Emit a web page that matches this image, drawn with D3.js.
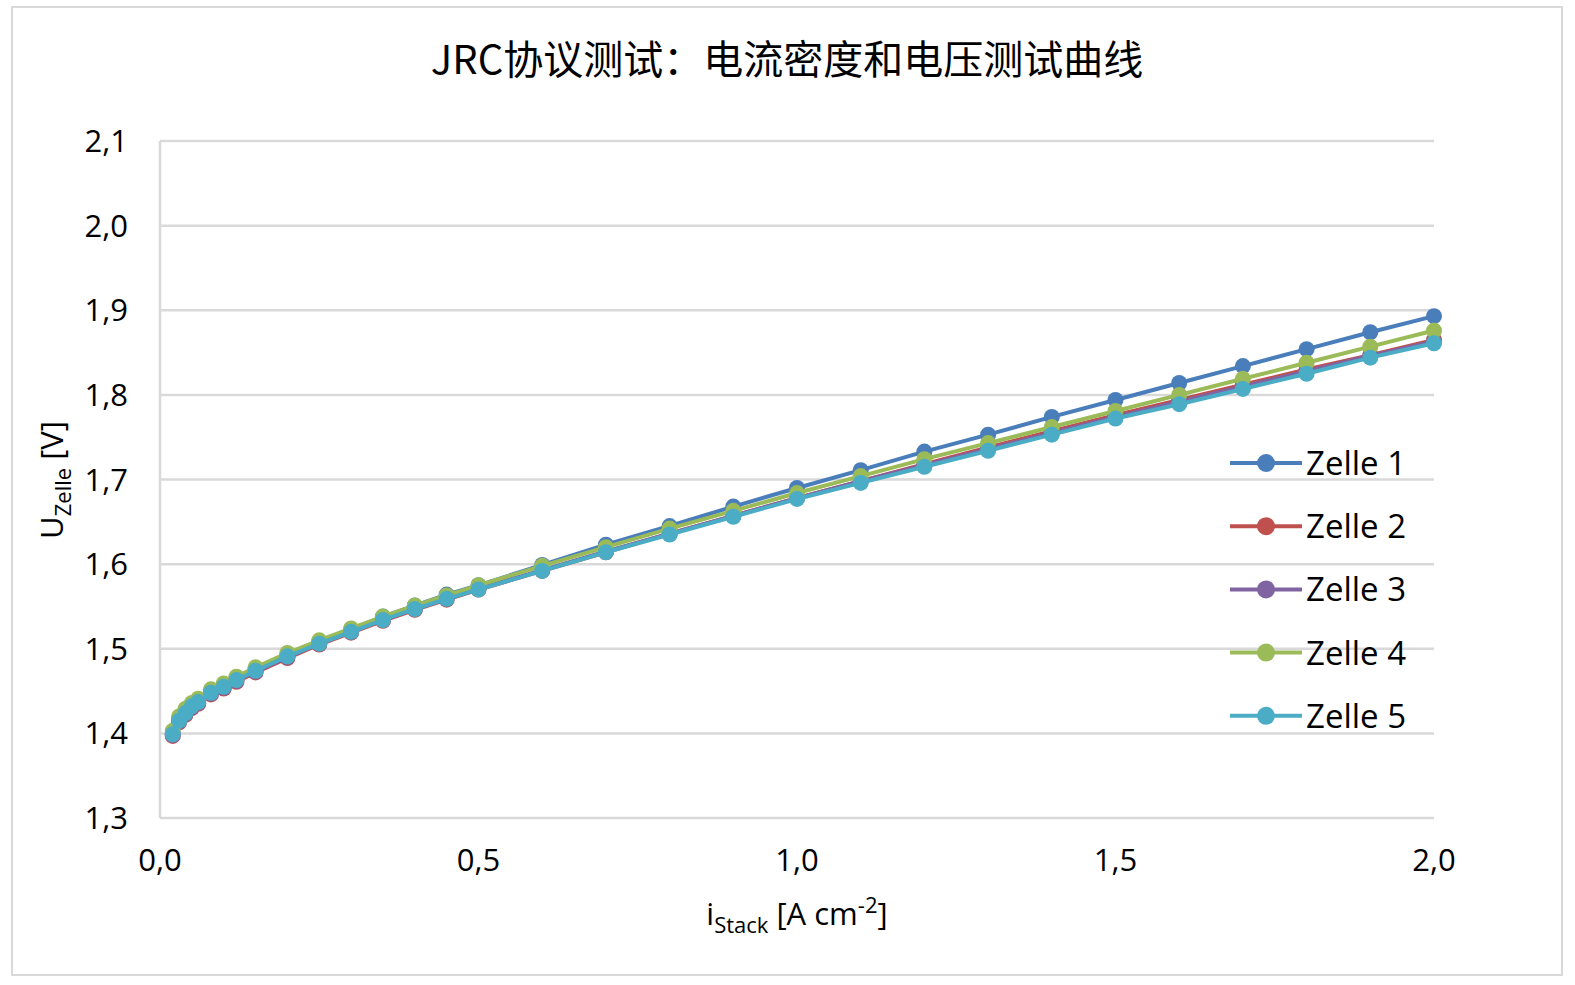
<!DOCTYPE html><html><head><meta charset="utf-8"><script src="https://cdn.jsdelivr.net/npm/d3@7"></script>
<style>body{margin:0;background:#fff}text{font-family:"Open Sans","Noto Sans",sans-serif;fill:#000}</style></head><body>
<svg id="c" width="1575" height="985"></svg>
<script>
const xs=[0.02,0.03,0.04,0.05,0.06,0.08,0.10,0.12,0.15,0.2,0.25,0.3,0.35,0.4,0.45,0.5,0.6,0.7,0.8,0.9,1.0,1.1,1.2,1.3,1.4,1.5,1.6,1.7,1.8,1.9,2.0];
const zelle1=[1.400,1.417,1.426,1.434,1.439,1.450,1.457,1.465,1.476,1.493,1.509,1.523,1.538,1.551,1.564,1.575,1.599,1.623,1.645,1.668,1.690,1.711,1.733,1.753,1.774,1.794,1.814,1.834,1.854,1.874,1.893];
const zelle2=[1.397,1.413,1.422,1.430,1.435,1.446,1.453,1.461,1.472,1.489,1.505,1.519,1.533,1.546,1.558,1.570,1.592,1.614,1.636,1.657,1.678,1.698,1.718,1.738,1.757,1.776,1.794,1.812,1.830,1.847,1.865];
const zelle3=[1.398,1.414,1.423,1.431,1.436,1.447,1.454,1.462,1.473,1.490,1.506,1.520,1.534,1.547,1.559,1.571,1.593,1.615,1.636,1.657,1.678,1.698,1.717,1.736,1.755,1.774,1.792,1.810,1.828,1.846,1.863];
const zelle4=[1.403,1.420,1.429,1.436,1.441,1.452,1.459,1.467,1.478,1.495,1.510,1.524,1.538,1.551,1.563,1.575,1.598,1.620,1.642,1.663,1.684,1.704,1.724,1.743,1.762,1.781,1.800,1.819,1.838,1.857,1.876];
const zelle5=[1.399,1.415,1.424,1.432,1.437,1.448,1.455,1.463,1.474,1.491,1.506,1.520,1.534,1.547,1.559,1.570,1.592,1.614,1.635,1.656,1.677,1.696,1.715,1.734,1.753,1.772,1.789,1.807,1.825,1.844,1.861];
const names=["Zelle 1","Zelle 2","Zelle 3","Zelle 4","Zelle 5"];
const colors=["#4a7ebb","#c0504d","#8064a2","#9bbb59","#4bacc6"];
const xTicks=[0,0.5,1.0,1.5,2.0], yTicks=[1.3,1.4,1.5,1.6,1.7,1.8,1.9,2.0,2.1];
const series=[zelle1,zelle2,zelle3,zelle4,zelle5];
const svg=d3.select("#c");
svg.append("rect").attr("x",12).attr("y",7).attr("width",1550).attr("height",968).attr("fill","#fff").attr("stroke","#d9d9d9").attr("stroke-width",2);
const x=d3.scaleLinear().domain([0,2]).range([160,1434]);
const y=d3.scaleLinear().domain([1.3,2.1]).range([818,141]);
const f=v=>d3.format(".1f")(v).replace(".",",");
svg.append("g").selectAll("line").data(yTicks.slice(1)).join("line").attr("x1",160).attr("x2",1434).attr("y1",d=>y(d)).attr("y2",d=>y(d)).attr("stroke","#d9d9d9").attr("stroke-width",2.5);
svg.append("line").attr("x1",160).attr("x2",160).attr("y1",141).attr("y2",818).attr("stroke","#d9d9d9").attr("stroke-width",2.5);
svg.append("line").attr("x1",160).attr("x2",1434).attr("y1",818).attr("y2",818).attr("stroke","#d9d9d9").attr("stroke-width",2.5);
svg.append("g").selectAll("text").data(yTicks).join("text").attr("x",128).attr("y",d=>y(d)+11).attr("text-anchor","end").attr("font-size",31).text(f);
svg.append("g").selectAll("text").data(xTicks).join("text").attr("x",d=>x(d)).attr("y",871).attr("text-anchor","middle").attr("font-size",31).text(f);
const line=d3.line().x((d,i)=>x(xs[i])).y(d=>y(d));
series.forEach((s,k)=>{
 const g=svg.append("g");
 g.append("path").attr("d",line(s)).attr("fill","none").attr("stroke",colors[k]).attr("stroke-width",4);
 g.selectAll("circle").data(s).join("circle").attr("cx",(d,i)=>x(xs[i])).attr("cy",d=>y(d)).attr("r",8).attr("fill",colors[k]);
});
const lg=svg.append("g");
names.forEach((n,k)=>{
 const yy=463+k*63.2;
 lg.append("line").attr("x1",1230).attr("x2",1302).attr("y1",yy).attr("y2",yy).attr("stroke",colors[k]).attr("stroke-width",4);
 lg.append("circle").attr("cx",1266).attr("cy",yy).attr("r",9).attr("fill",colors[k]);
 lg.append("text").attr("x",1306).attr("y",yy+12).attr("font-size",33).text(n);
});
svg.append("text").attr("x",787).attr("y",74).attr("text-anchor","middle").attr("font-size",40).style("font-family","'Noto Sans CJK SC',sans-serif").text("JRC协议测试：电流密度和电压测试曲线");
const xl=svg.append("text").attr("x",797).attr("y",925).attr("text-anchor","middle").attr("font-size",31);
xl.append("tspan").text("i");xl.append("tspan").attr("font-size",22).attr("dy",8).text("Stack");xl.append("tspan").attr("dy",-8).text(" [A cm");xl.append("tspan").attr("font-size",22).attr("dy",-12).text("-2");xl.append("tspan").attr("dy",12).text("]");
const yl=svg.append("text").attr("transform","translate(63,480) rotate(-90)").attr("text-anchor","middle").attr("font-size",31);
yl.append("tspan").text("U");yl.append("tspan").attr("font-size",22).attr("dy",8).text("Zelle");yl.append("tspan").attr("dy",-8).text(" [V]");
</script></body></html>
